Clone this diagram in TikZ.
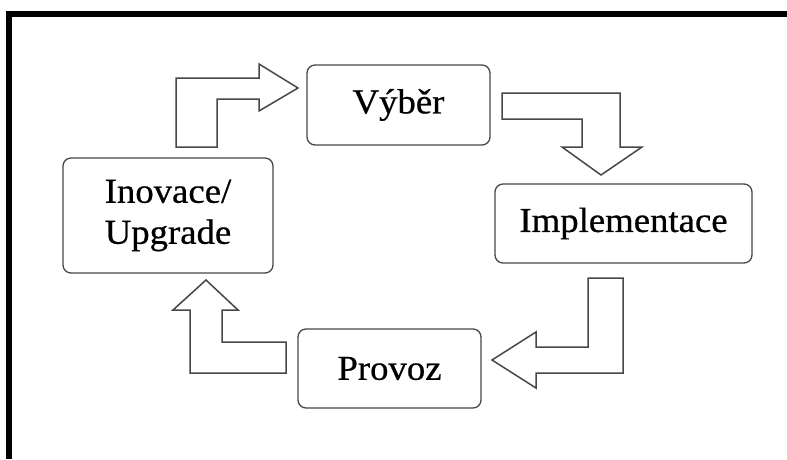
\documentclass[tikz,border=0pt]{standalone}
\usepackage{fontspec}
\setmainfont{Liberation Serif}[FakeStretch=1.05,FakeBold=0.6]
\begin{document}
\begin{tikzpicture}[x=1pt,y=-1pt,
  stagebox/.style={draw=black!72,line width=1.3pt,rounded corners=8pt,fill=white,
    inner sep=0pt,align=center,font=\fontsize{35}{41}\selectfont},
  blockarrow/.style={draw=black!72,line width=1.5pt,fill=white,line join=miter}]
\useasboundingbox (0,0) rectangle (787,459);
% frame
\fill[black] (6,11) rectangle (787,17);
\fill[black] (6,11) rectangle (12,459);

% stages of the cycle
\node[stagebox,minimum width=183pt,minimum height=80pt] (vyber) at (398.5,105) {Výběr};
\node[stagebox,minimum width=257pt,minimum height=79pt] (impl) at (623.5,223.5) {Implementace};
\node[stagebox,minimum width=183pt,minimum height=79pt] (provoz) at (389.5,368.5) {Provoz};
\node[stagebox,minimum width=210pt,minimum height=115pt] (inov) at (168,215.5) {Inovace/\\Upgrade};

% bent block arrows between the stages
\draw[blockarrow] (176,147) -- (176,78) -- (259,78) -- (259,64) -- (298,88)
  -- (259,111) -- (259,99) -- (217,99) -- (217,147) -- cycle;
\draw[blockarrow] (502,93) -- (620,93) -- (620,147) -- (642,147) -- (601,175)
  -- (562,147) -- (582,147) -- (582,119) -- (502,119) -- cycle;
\draw[blockarrow] (588,278) -- (623,278) -- (623,373) -- (536,373) -- (536,388)
  -- (492,360) -- (536,332) -- (536,347) -- (588,347) -- cycle;
\draw[blockarrow] (206,280) -- (238,310) -- (222,310) -- (222,342) -- (286,342)
  -- (286,373) -- (190,373) -- (190,310) -- (173,310) -- cycle;
\end{tikzpicture}
\end{document}
